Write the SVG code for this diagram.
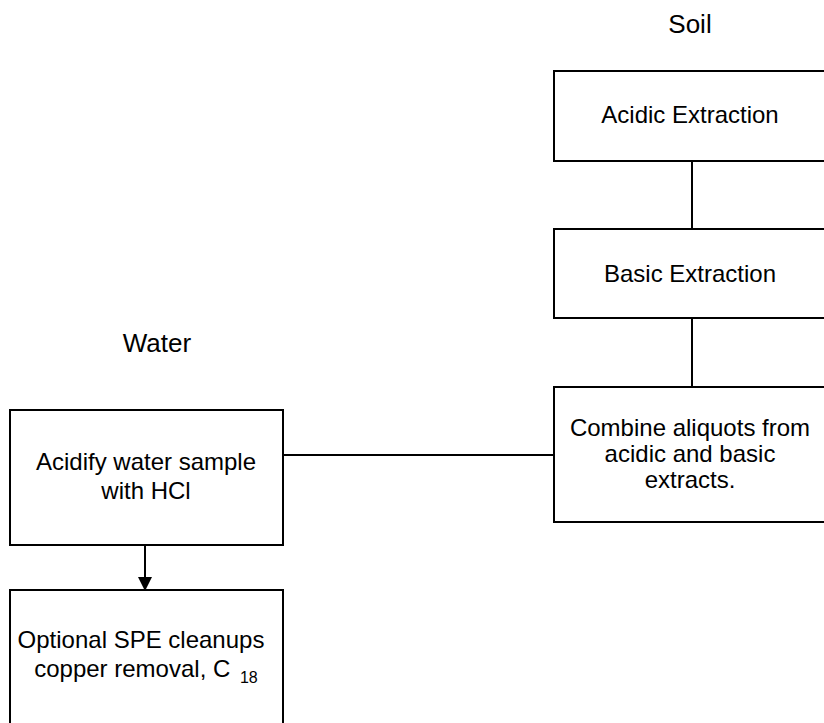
<svg xmlns="http://www.w3.org/2000/svg" width="824" height="723" viewBox="0 0 824 723">
<defs>
<style>
.box{fill:#fff;stroke:#000;stroke-width:2}
.ln{fill:none;stroke:#000;stroke-width:2}
text{font-family:"Liberation Sans",Arial,sans-serif;font-size:24px;fill:#000;text-anchor:middle}
.hd{font-size:26px}
.sub{font-size:16px}
</style>
<marker id="ah" markerWidth="14" markerHeight="14" refX="13" refY="7" orient="auto" markerUnits="userSpaceOnUse">
<path d="M0,0 L14,7 L0,14 Z" fill="#000"/>
</marker>
</defs>
<rect width="824" height="723" fill="#fff"/>
<text class="hd" x="690" y="33">Soil</text>
<text class="hd" x="157" y="352">Water</text>
<g id="connectors">
<line class="ln" x1="692" y1="161" x2="692" y2="229"/>
<line class="ln" x1="692" y1="318" x2="692" y2="387"/>
<line class="ln" x1="283" y1="455" x2="554" y2="455"/>
<line class="ln" x1="145" y1="545" x2="145" y2="590" marker-end="url(#ah)"/>
</g>
<g id="acidic">
<rect class="box" x="554" y="71" width="272" height="90"/>
<text x="690" y="123">Acidic Extraction</text>
</g>
<g id="basic">
<rect class="box" x="554" y="229" width="272" height="89"/>
<text x="690" y="282">Basic Extraction</text>
</g>
<g id="combine">
<rect class="box" x="554" y="387" width="272" height="135"/>
<text x="690" y="436">Combine aliquots from</text>
<text x="690" y="462">acidic and basic</text>
<text x="690" y="488">extracts.</text>
</g>
<g id="acidify">
<rect class="box" x="10" y="410" width="273" height="135"/>
<text x="146" y="470">Acidify water sample</text>
<text x="146" y="499">with HCl</text>
</g>
<g id="spe">
<rect class="box" x="10" y="590" width="273" height="140"/>
<text x="141" y="648">Optional SPE cleanups</text>
<text x="146" y="677">copper removal, C <tspan class="sub" dx="3" dy="6">18</tspan></text>
</g>
</svg>
